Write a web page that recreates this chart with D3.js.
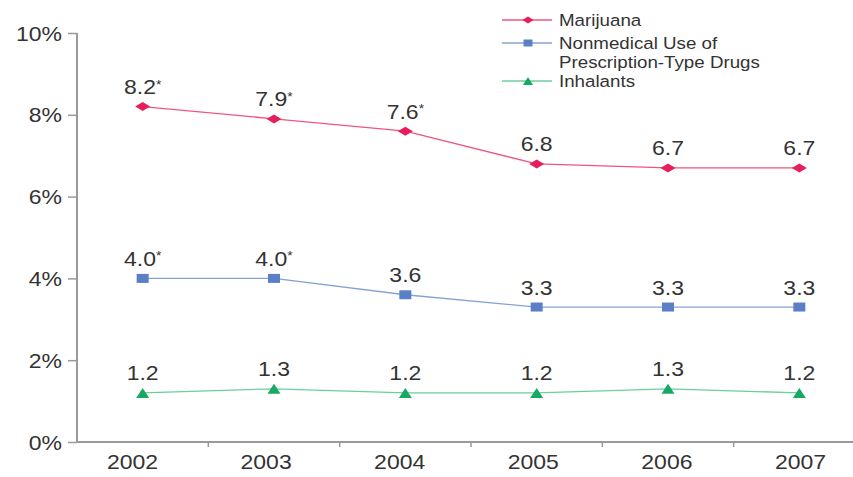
<!DOCTYPE html>
<html>
<head>
<meta charset="utf-8">
<script src="https://cdn.jsdelivr.net/npm/d3@7"></script>
<style>
  html, body { margin: 0; padding: 0; background: #fff; }
  svg { display: block; font-family: "Liberation Sans", Arial, sans-serif; }
</style>
</head>
<body>
<svg id="chart" width="853" height="477"></svg>
<script>
// Past-month use among youths, by year
const years = ["2002", "2003", "2004", "2005", "2006", "2007"];
const marijuana = [8.2, 7.9, 7.6, 6.8, 6.7, 6.7];
const prescription = [4.0, 4.0, 3.6, 3.3, 3.3, 3.3];
const inhalants = [1.2, 1.3, 1.2, 1.2, 1.3, 1.2];
// years whose change is statistically significant (asterisk)
const marijuanaSig = [true, true, true, false, false, false];
const prescriptionSig = [true, true, false, false, false, false];
const inhalantsSig = [false, false, false, false, false, false];
const yTicks = [0, 2, 4, 6, 8, 10];

// marker shapes drawn in a w×h box centred on the point
const diamond = (w, h) => ({ draw(ctx) { ctx.moveTo(-w/2, 0); ctx.lineTo(0, -h/2); ctx.lineTo(w/2, 0); ctx.lineTo(0, h/2); ctx.closePath(); } });
const rect = (w, h) => ({ draw(ctx) { ctx.rect(-w/2, -h/2, w, h); } });
const triangle = (w, h) => ({ draw(ctx) { ctx.moveTo(0, -h/2); ctx.lineTo(w/2, h/2); ctx.lineTo(-w/2, h/2); ctx.closePath(); } });

const series = [
  { name: ["Marijuana"], values: marijuana, sig: marijuanaSig, line: "#f0557f", fill: "#e61e5c",
    mark: diamond(15, 9), key: diamond(11, 7) },
  { name: ["Nonmedical Use of", "Prescription-Type Drugs"], values: prescription, sig: prescriptionSig, line: "#86a1d8", fill: "#5a7fc6",
    mark: rect(12, 9), key: rect(9, 7) },
  { name: ["Inhalants"], values: inhalants, sig: inhalantsSig, line: "#6bcf9c", fill: "#18a866",
    mark: triangle(13, 10), key: triangle(10, 8) }
];

const svg = d3.select("#chart");
const plot = { left: 77, right: 865, top: 33, bottom: 442 };
const widen = 1.15; // horizontal stretch of the lettering

// points sit in the middle of equal year bands; the year captions use a slightly wider spread
const x = d3.scaleBand().domain(years).range([plot.left, plot.right]);
const xLabel = d3.scalePoint().domain(years).range([132, 800]);
const y = d3.scaleLinear().domain([0, 10]).range([plot.bottom, plot.top]);

const axisColor = "#9a9a9a";
const textColor = "#333";

// stretch text horizontally around its own anchor point
function stretch(sel) {
  sel.each(function () {
    const t = d3.select(this);
    const ax = +t.attr("x") || 0;
    t.attr("transform", `translate(${ax * (1 - widen)},0) scale(${widen},1)`);
  });
}

// y axis
const yAxis = svg.append("g")
  .attr("transform", `translate(${plot.left},0)`)
  .call(d3.axisLeft(y).tickValues(yTicks).tickSize(9).tickPadding(6).tickFormat(d => d + "%"));
yAxis.select(".domain").attr("stroke", axisColor).attr("stroke-width", 2).attr("d", `M0,${plot.top}V${plot.bottom}`);
yAxis.selectAll(".tick line").attr("stroke", axisColor).attr("stroke-width", 1.5);
yAxis.selectAll(".tick text").attr("fill", textColor).style("font-size", "20px").attr("dy", "0.35em").call(stretch);

// x axis: captions from the label scale, line spanning to the right edge
const xAxis = svg.append("g")
  .attr("transform", `translate(0,${plot.bottom})`)
  .call(d3.axisBottom(xLabel).tickSize(0).tickPadding(13));
xAxis.select(".domain").attr("stroke", axisColor).attr("stroke-width", 2).attr("d", `M${plot.left},0H853`);
xAxis.selectAll(".tick text").attr("fill", textColor).style("font-size", "20px").call(stretch);

const cx = d => x(d) + x.bandwidth() / 2;
// small separators halfway between neighbouring years
xAxis.selectAll(".sep").data(years.slice(1)).enter().append("line")
  .attr("class", "sep")
  .attr("x1", d => x(d)).attr("x2", d => x(d))
  .attr("y1", 0).attr("y2", 5)
  .attr("stroke", axisColor).attr("stroke-width", 1.5);

const line = d3.line().x((d, i) => cx(years[i])).y(d => y(d));

series.forEach(s => {
  const g = svg.append("g");
  g.append("path").datum(s.values)
    .attr("d", line).attr("fill", "none")
    .attr("stroke", s.line).attr("stroke-width", 1.3);
  g.selectAll("path.mark").data(s.values).enter().append("path")
    .attr("class", "mark")
    .attr("transform", (d, i) => `translate(${cx(years[i])},${y(d)})`)
    .attr("d", d3.symbol().type(s.mark))
    .attr("fill", s.fill);
  const lab = g.selectAll("text").data(s.values).enter().append("text")
    .attr("x", (d, i) => cx(years[i]))
    .attr("y", d => y(d) - 12.5)
    .attr("text-anchor", "middle")
    .attr("fill", textColor)
    .style("font-size", "20px");
  lab.append("tspan").text(d => d.toFixed(1));
  lab.filter((d, i) => s.sig[i]).append("tspan")
    .attr("dy", "-0.45em").style("font-size", "12px").text("*");
  lab.call(stretch);
});

// legend
const legend = svg.append("g").attr("transform", "translate(502,0)");
const legendRows = [20, 43, 81];
series.forEach((s, i) => {
  const gy = legendRows[i];
  legend.append("line").attr("x1", 0).attr("x2", 50).attr("y1", gy).attr("y2", gy)
    .attr("stroke", s.line).attr("stroke-width", 1.3);
  legend.append("path").attr("transform", `translate(26,${gy})`)
    .attr("d", d3.symbol().type(s.key)).attr("fill", s.fill);
  s.name.forEach((t, j) => {
    legend.append("text").attr("x", 57).attr("y", gy + j * 19)
      .attr("dy", "0.35em").attr("fill", textColor)
      .style("font-size", "16.3px").text(t).call(stretch);
  });
});
</script>
</body>
</html>
